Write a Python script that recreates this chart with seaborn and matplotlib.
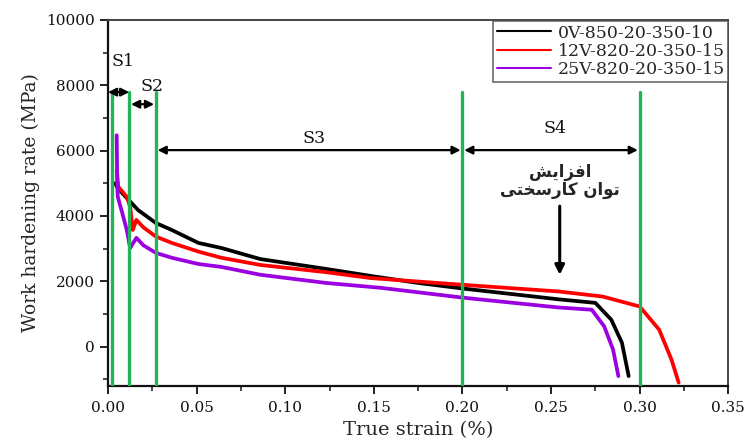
import numpy as np
import pandas as pd
import matplotlib
matplotlib.use("Agg")
import matplotlib.pyplot as plt
from matplotlib.ticker import MultipleLocator
import seaborn as sns

# Work-hardening curves: true strain vs. work hardening rate (MPa)
strain_0v = [0.0040, 0.0055, 0.0106, 0.0170, 0.0270, 0.0360, 0.0510, 0.0640,
             0.0860, 0.1230, 0.1500, 0.1750, 0.2000, 0.2540, 0.2750, 0.2840,
             0.2900, 0.2938]
rate_0v = [5000, 4850, 4550, 4180, 3785, 3570, 3175, 3020,
           2680, 2380, 2150, 1950, 1780, 1450, 1340, 825,
           120, -900]

strain_12v = [0.0050, 0.0058, 0.0106, 0.0125, 0.0140, 0.0160, 0.0200, 0.0270,
              0.0360, 0.0510, 0.0640, 0.0860, 0.1230, 0.1480, 0.2010, 0.2540,
              0.2790, 0.3000, 0.3110, 0.3180, 0.3220]
rate_12v = [5400, 4890, 4590, 4280, 3570, 3880, 3650, 3370,
            3175, 2910, 2720, 2500, 2280, 2100, 1890, 1690,
            1535, 1230, 520, -400, -1100]

strain_25v = [0.0049, 0.0052, 0.0055, 0.0080, 0.0106, 0.0125, 0.0160, 0.0200,
              0.0270, 0.0360, 0.0510, 0.0640, 0.0860, 0.1230, 0.1540, 0.2010,
              0.2540, 0.2730, 0.2800, 0.2850, 0.2880]
rate_25v = [6470, 5000, 4590, 4100, 3570, 3020, 3330, 3100,
            2870, 2720, 2530, 2440, 2200, 1950, 1800, 1495,
            1200, 1130, 620, -90, -900]

series_names = ["0V-850-20-350-10", "12V-820-20-350-15", "25V-820-20-350-15"]
series_colors = ["#000000", "#ff0000", "#9b00e0"]

# Stage boundaries and annotations
stage_bounds = [0.002, 0.012, 0.027, 0.200, 0.300]
stage_labels = ["S1", "S2", "S3", "S4"]

frames = []
for name, xs, ys in zip(series_names,
                        [strain_0v, strain_12v, strain_25v],
                        [rate_0v, rate_12v, rate_25v]):
    frames.append(pd.DataFrame({"strain": xs, "rate": ys, "sample": name}))
df = pd.concat(frames, ignore_index=True)

sns.set_style("ticks")
plt.rcParams["font.family"] = ["DejaVu Serif"]
plt.rcParams["mathtext.default"] = "regular"

fig = plt.figure(figsize=(7.5, 4.43), dpi=100)
ax = fig.add_axes([0.144, 0.129, 0.827, 0.826])

sns.lineplot(data=df, x="strain", y="rate", hue="sample", hue_order=series_names,
             palette=dict(zip(series_names, series_colors)), sort=False,
             estimator=None, linewidth=2.7, ax=ax, zorder=3)

# Green stage boundaries
green = "#22b455"
for xb in stage_bounds:
    ax.plot([xb, xb], [-1200, 7800], color=green, linewidth=2.4, zorder=4)

arrow_kw = dict(arrowstyle="<|-|>", color="black", lw=1.6,
                mutation_scale=12, shrinkA=0, shrinkB=0)
ax.annotate("", xy=(stage_bounds[0] - 0.002, 7790), xytext=(stage_bounds[1], 7790),
            arrowprops=arrow_kw, zorder=5)
ax.annotate("", xy=(stage_bounds[1] + 0.001, 7420), xytext=(stage_bounds[2] - 0.001, 7420),
            arrowprops=arrow_kw, zorder=5)
ax.annotate("", xy=(stage_bounds[2] + 0.001, 6015), xytext=(stage_bounds[3] - 0.001, 6015),
            arrowprops=arrow_kw, zorder=5)
ax.annotate("", xy=(stage_bounds[3] + 0.001, 6015), xytext=(stage_bounds[4] - 0.001, 6015),
            arrowprops=arrow_kw, zorder=5)

label_pos = [(0.0085, 8730), (0.0247, 7950), (0.116, 6380), (0.252, 6690)]
for lab, (lx, ly) in zip(stage_labels, label_pos):
    ax.text(lx, ly, lab, ha="center", va="center", fontsize=12.5, color="#111111")

# Persian note: "increase of work-hardening exponent"
note_line1 = "\ufeb6\ufef3\ufe8d\ufeb0\ufed3\ufe8d"
note_line2 = "\ufef0\ufe98\ufea8\ufeb3\ufead\ufe8e\ufb90 \ufee5\ufe8d\ufeee\ufe97"
ax.text(0.2549, 5360, note_line1, ha="center", va="center", fontsize=12,
        fontweight="bold", family=["DejaVu Sans"])
ax.text(0.2549, 4780, note_line2, ha="center", va="center", fontsize=12,
        fontweight="bold", family=["DejaVu Sans"])
ax.annotate("", xy=(0.2549, 2200), xytext=(0.2549, 4300),
            arrowprops=dict(arrowstyle="-|>", color="black", lw=2.2,
                            mutation_scale=14, shrinkA=0, shrinkB=0), zorder=5)

ax.set_xlim(0, 0.35)
ax.set_ylim(-1200, 10000)
ax.xaxis.set_major_locator(MultipleLocator(0.05))
ax.xaxis.set_minor_locator(MultipleLocator(0.025))
ax.yaxis.set_major_locator(MultipleLocator(2000))
ax.yaxis.set_minor_locator(MultipleLocator(1000))
ax.xaxis.set_major_formatter(matplotlib.ticker.FormatStrFormatter("%.2f"))
ax.tick_params(axis="both", which="major", direction="out", length=6, width=1.3,
               labelsize=11, colors="#111111")
ax.tick_params(axis="both", which="minor", direction="out", length=3.5, width=1.2)
ax.tick_params(axis="x", pad=5)

for side in ["left", "bottom"]:
    ax.spines[side].set_linewidth(1.6)
    ax.spines[side].set_color("#111111")
for side in ["top", "right"]:
    ax.spines[side].set_linewidth(1.4)
    ax.spines[side].set_color("#444444")

ax.set_xlabel("True strain (%)", fontsize=14, labelpad=4)
ax.set_ylabel("Work hardening rate (MPa)", fontsize=13.5, labelpad=4)

leg = ax.legend(loc="upper right", bbox_to_anchor=(1.0, 0.997), fontsize=12.5,
                frameon=True, fancybox=False, handlelength=3.1, handletextpad=0.4,
                labelspacing=0.08, borderpad=0.2, borderaxespad=0.0)
leg.get_frame().set_edgecolor("#555555")
leg.get_frame().set_linewidth(1.3)
for line in leg.get_lines():
    line.set_linewidth(1.5)
leg.set_zorder(6)

fig.savefig("out.png", dpi=100)
